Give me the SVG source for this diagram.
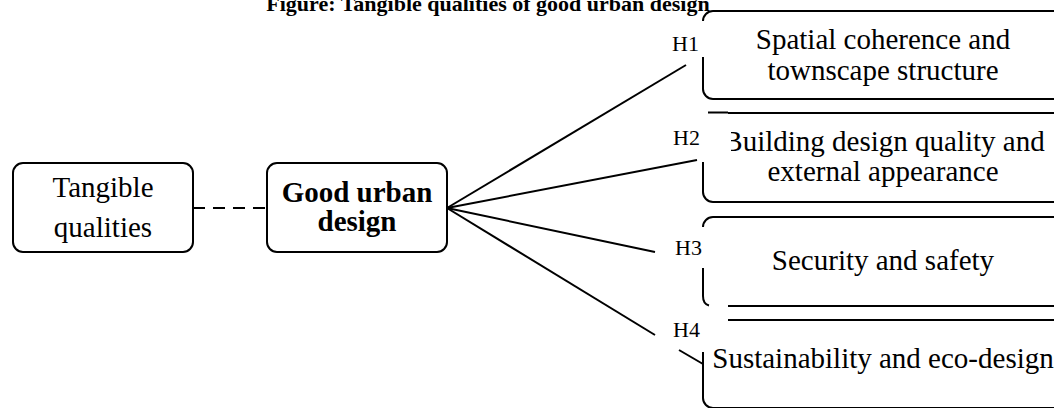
<svg xmlns="http://www.w3.org/2000/svg" width="1054" height="408" viewBox="0 0 1054 408">
<style>
.box{fill:#fff;stroke:#000;stroke-width:2}
.edge{fill:none;stroke:#000;stroke-width:2}
.conn{fill:none;stroke:#000;stroke-width:2}
.t{font-family:"Liberation Serif","Times New Roman",serif;font-size:29px;fill:#000;text-anchor:middle}
.b{font-weight:bold}
.h{font-family:"Liberation Serif","Times New Roman",serif;font-size:22px;fill:#000}
.title{font-family:"Liberation Serif","Times New Roman",serif;font-size:22px;font-weight:bold;fill:#000;text-anchor:middle}
</style>
<rect width="1054" height="408" fill="#fff"/>
<text class="title" x="488" y="11">Figure: Tangible qualities of good urban design</text>
<g id="connectors">
  <line class="conn" x1="193" y1="208" x2="267" y2="208" stroke-dasharray="12 8"/>
  <line class="conn" x1="447" y1="208" x2="686" y2="65"/>
  <line class="conn" x1="447" y1="208" x2="697" y2="160"/>
  <line class="conn" x1="447" y1="208" x2="655" y2="252"/>
  <line class="conn" x1="447" y1="208" x2="655" y2="335"/>
  <line class="conn" x1="679" y1="350" x2="703" y2="364"/>
</g>
<g id="tangible">
  <rect class="box" x="13" y="163" width="180" height="89" rx="10"/>
  <text class="t" x="103" y="197">Tangible</text>
  <text class="t" x="103" y="237">qualities</text>
</g>
<g id="good-urban-design">
  <rect class="box" x="267" y="163" width="180" height="89" rx="10"/>
  <text class="t b" x="357" y="202">Good urban</text>
  <text class="t b" x="357" y="231">design</text>
</g>
<g id="h1">
  <path class="edge" d="M703,57 V89 A10,10 0 0 0 713,99 H1053 A10,10 0 0 0 1063,89 V21 A10,10 0 0 0 1053,11 H713 A10,10 0 0 0 703,21"/>
  <text class="t" x="883" y="49">Spatial coherence and</text>
  <text class="t" x="883" y="80">townscape structure</text>
  <text class="h" x="672" y="51">H1</text>
</g>
<g id="h2">
  <path class="edge" d="M703,162 V192 A10,10 0 0 0 713,202 H1053 A10,10 0 0 0 1063,192 V123 A10,10 0 0 0 1053,113 H728 M728,112.5 H708"/>
  <text class="t" x="884" y="151">Building design quality and</text>
  <text class="t" x="883" y="181">external appearance</text>
  <rect x="712" y="125" width="19" height="32" fill="#fff"/>
  <text class="h" x="673" y="145">H2</text>
</g>
<g id="h3">
  <path class="edge" d="M728,306 H1053 A10,10 0 0 0 1063,296 V227 A10,10 0 0 0 1053,217 H713 A10,10 0 0 0 703,227"/>
  <path class="edge" d="M703,268 V296 Q703,304 709,305.5"/>
  <text class="t" x="883" y="270">Security and safety</text>
  <text class="h" x="675" y="255">H3</text>
</g>
<g id="h4">
  <path class="edge" d="M728,320 H1053 A10,10 0 0 1 1063,330 V398 A10,10 0 0 1 1053,408 H713 A10,10 0 0 1 703,398 V352"/>
  <text class="t" x="883" y="368">Sustainability and eco-design</text>
  <text class="h" x="673" y="337">H4</text>
</g>
</svg>
